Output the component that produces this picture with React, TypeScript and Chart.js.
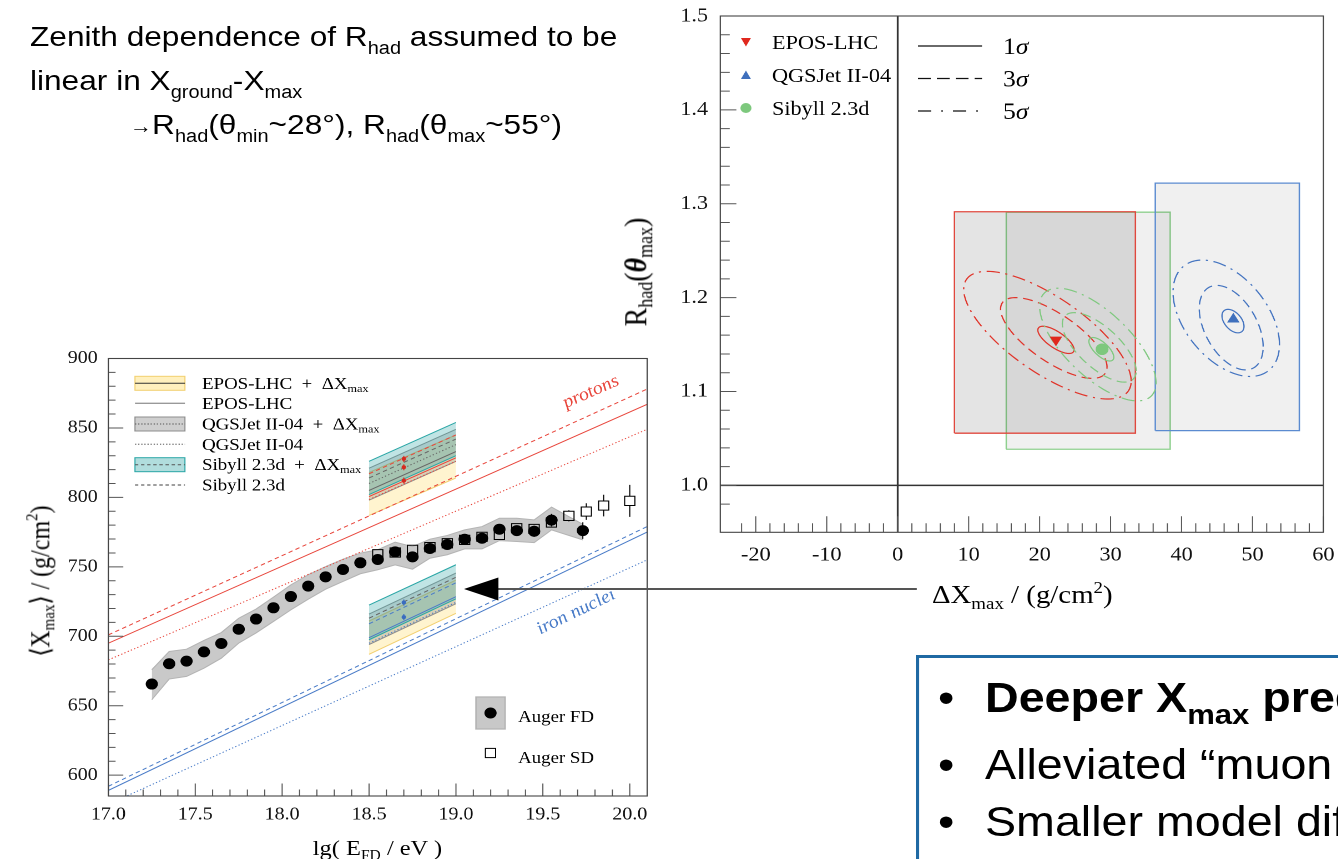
import React, { useEffect, useRef } from 'react';
import { Chart, registerables } from 'chart.js';

Chart.register(...registerables);

const STRETCH = 1.11;
const SERIF = '"Liberation Serif", "Times New Roman", Times, serif';
const SANS = '"Liberation Sans", Arial, Helvetica, sans-serif';

/* ================= left panel : <Xmax> vs lg(E) ================= */
const fdLgE = [17.25, 17.35, 17.45, 17.55, 17.65, 17.75, 17.85, 17.95, 18.05, 18.15, 18.25, 18.35, 18.45, 18.55, 18.65, 18.75, 18.85, 18.95, 19.05, 19.15, 19.25, 19.35, 19.45, 19.55, 19.73];
const fdXmax = [665.6, 680.2, 682.1, 688.8, 694.8, 705.1, 712.4, 720.5, 728.6, 736.1, 742.8, 748.1, 752.9, 755.3, 760.8, 757.2, 763.2, 766.1, 769.9, 770.6, 777.1, 776.1, 775.6, 783.6, 776.1];
const fdSysUp = [10.3, 8.9, 8.6, 8.2, 7.9, 7.9, 7.2, 7.7, 8.4, 8.2, 7.4, 7.4, 7.0, 7.0, 7.0, 7.4, 6.7, 6.5, 6.7, 8.4, 7.9, 8.9, 8.2, 9.4, 4.5];
const fdSysLow = [11.3, 11.0, 11.0, 11.8, 10.6, 10.0, 10.0, 9.8, 9.6, 9.4, 8.9, 8.6, 7.9, 7.4, 9.4, 8.9, 7.0, 7.4, 7.0, 7.7, 8.2, 7.9, 8.2, 7.0, 6.7];
const fdStat = [2.5, 2, 2, 2, 2, 2, 2, 2, 2, 2, 2, 2, 2, 2, 2, 2.5, 2.5, 2.5, 3, 3, 3.5, 3.5, 4, 4.5, 6];
const sdLgE = [18.55, 18.65, 18.75, 18.85, 18.95, 19.05, 19.15, 19.25, 19.35, 19.45, 19.55, 19.65, 19.75, 19.85, 20.0];
const sdXmax = [759.1, 760.3, 762.2, 764.2, 767.0, 769.4, 771.6, 773.0, 777.8, 777.3, 781.9, 786.7, 789.8, 794.1, 797.5];
const sdStat = [1.5, 1.5, 1.5, 1.5, 1.5, 1.5, 1.5, 2, 2, 2.5, 3, 4, 6, 7.8, 11.5];

const refLgE = [17.0, 20.1];
const protonEPOS = [695, 867];
const protonQGSJet = [683, 849];
const protonSibyll = [701, 878];
const ironEPOS = [589, 775];
const ironQGSJet = [579, 755];
const ironSibyll = [592, 779];

const shiftLgE = [18.5, 19.0];
const pEposLo = [787, 814];
const pEposHi = [818, 845];
const pQgsLo = [798, 826];
const pQgsHi = [821, 849];
const pSibLo = [802, 830];
const pSibHi = [826, 854];
const pEposMid = [805, 833];
const pQgsMid = [810, 838];
const pSibMid = [814, 842];
const pRedSolid = [800.6, 828.5];
const pRedDashed = [817, 845];
const pRedDotted = [798.5, 826];
const feEposLo = [687, 716.5];
const feEposHi = [711, 740.5];
const feQgsLo = [694, 723.5];
const feQgsHi = [716, 745.5];
const feSibLo = [697.5, 727];
const feSibHi = [722.5, 751.5];
const feSibMid = [713, 742.5];
const feBlueSolid = [699, 728.5];
const feBlueDashed = [709, 738.5];
const feBlueDotted = [695, 724.5];
const pMarkLgE = [18.7, 18.7, 18.7];
const pMarkXmax = [827.7, 821.7, 812.1];
const feMarkLgE = [18.7, 18.7];
const feMarkXmax = [724.3, 713.8];

const leftLegendNames = ['EPOS-LHC', 'EPOS-LHC', 'QGSJet II-04', 'QGSJet II-04', 'Sibyll 2.3d', 'Sibyll 2.3d'];
const leftLegendShifted = [true, false, true, false, true, false];

/* ================= right panel : R_had vs dXmax ================= */
const modelNames = ['EPOS-LHC', 'QGSJet II-04', 'Sibyll 2.3d'];
const fitDX = [22.3, 47.3, 28.8];
const fitR = [1.155, 1.177, 1.145];
const sysDXLo = [8.0, 36.3, 15.3];
const sysDXHi = [33.5, 56.6, 38.4];
const sysRLo = [1.0556, 1.0583, 1.0385];
const sysRHi = [1.2915, 1.322, 1.291];
const sigmaNames = ['1σ', '3σ', '5σ'];
// contour parameters per model, per sigma level (centre, half extents, correlation)
const contCX = [[22.3, 22.0, 21.1], [47.25, 47.0, 46.3], [28.7, 28.4, 28.2]];
const contCY = [[1.155, 1.157, 1.160], [1.175, 1.168, 1.178], [1.145, 1.147, 1.150]];
const contSX = [[2.55, 7.5, 11.8], [1.55, 4.5, 7.5], [1.75, 5.2, 8.2]];
const contSY = [[0.0145, 0.043, 0.068], [0.0125, 0.045, 0.062], [0.0125, 0.037, 0.060]];
const contRho = [-0.72, -0.45, -0.68];

const modelColor = ['#e0342a', '#4474c0', '#80c880'];
const markerColor = ['#e0281e', '#3f70bd', '#7dc87d'];
const rectEdge = ['#e0483e', '#5b8bd0', '#8fd08f'];
const rectFill = ['rgba(0,0,0,0.105)', 'rgba(0,0,0,0.06)', 'rgba(0,0,0,0.06)'];
const sigmaDash = [[], [9, 5], [12, 5, 2, 5]];

/* ================= helpers ================= */
function kindStep(v: number, minor: number, major: number): number {
  const q = v / minor;
  const r = Math.round(q);
  if (Math.abs(q - r) > 1e-6) return 0;
  const m = Math.round(major / minor);
  return r % m === 0 ? 2 : 1;
}

function pts(xs: number[], ys: number[]) {
  return xs.map((x, i) => ({ x, y: ys[i] }));
}

function lineDs(xs: number[], ys: number[], color: string, width: number, dash: number[], order: number, extra: any = {}) {
  return { data: pts(xs, ys), borderColor: color, borderWidth: width, borderDash: dash, pointRadius: 0, fill: false, order, ...extra };
}

function bandDs(xs: number[], lo: number[], hi: number[], fillColor: string, edge: string, order: number) {
  return [
    lineDs(xs, lo, edge, 1, [], order),
    lineDs(xs, hi, edge, 1, [], order, { fill: '-1', backgroundColor: fillColor }),
  ];
}

type Seg = { t: string; s?: number; dy?: number; it?: boolean; b?: boolean };
function drawRich(ctx: any, segs: Seg[], x: number, y: number, base: number, color = '#000') {
  ctx.save();
  ctx.fillStyle = color;
  ctx.textBaseline = 'alphabetic';
  ctx.textAlign = 'left';
  let cx = x;
  for (const sg of segs) {
    const size = sg.s ?? base;
    ctx.font = `${sg.it ? 'italic ' : ''}${sg.b ? 'bold ' : ''}${size}px ${SERIF}`;
    ctx.fillText(sg.t, cx, y + (sg.dy ?? 0));
    cx += ctx.measureText(sg.t).width;
  }
  ctx.restore();
  return cx;
}

function drawFrameAndTicks(chart: any, o: any) {
  const { ctx, chartArea: a } = chart;
  const xs = chart.scales.x;
  const ys = chart.scales.y;
  ctx.save();
  ctx.lineWidth = 1;
  ctx.strokeStyle = o.tickColor;
  ctx.beginPath();
  for (const t of xs.ticks) {
    const k = kindStep(t.value, o.xMinor, o.xMajor);
    if (!k) continue;
    const px = xs.getPixelForValue(t.value);
    ctx.moveTo(px, a.bottom);
    ctx.lineTo(px, a.bottom - (k === 2 ? o.xMajorLen : o.xMinorLen));
  }
  for (const t of ys.ticks) {
    const k = kindStep(t.value, o.yMinor, o.yMajor);
    if (!k) continue;
    const py = ys.getPixelForValue(t.value);
    ctx.moveTo(a.left, py);
    ctx.lineTo(a.left + (k === 2 ? o.yMajorLen : o.yMinorLen), py);
  }
  ctx.stroke();
  ctx.strokeStyle = o.frameColor;
  ctx.lineWidth = 1.1;
  ctx.strokeRect(a.left, a.top, a.right - a.left, a.bottom - a.top);
  ctx.restore();
}

const fitX = (h: number) => (s: any) => {
  s.height = h;
  s.paddingLeft = 0;
  s.paddingRight = 0;
  s.paddingTop = 0;
  s.paddingBottom = 0;
};
const fitY = (w: number) => (s: any) => {
  s.width = w;
  s.paddingLeft = 0;
  s.paddingRight = 0;
  s.paddingTop = 0;
  s.paddingBottom = 0;
};

/* ================= left chart ================= */
const RED = '#e8463c';
const BLUE = '#4a7cc8';
const YEL_FILL = 'rgba(255,222,110,0.33)';
const YEL_EDGE = '#f2d070';
const GRY_FILL = 'rgba(110,110,110,0.26)';
const GRY_EDGE = '#8c8c8c';
const CYN_FILL = 'rgba(60,170,170,0.32)';
const CYN_EDGE = '#2aa6a6';

function buildLeftDatasets() {
  const d: any[] = [];
  d.push({ data: pts(fdLgE, fdXmax), showLine: false, pointRadius: 5.5, pointBackgroundColor: '#000', pointBorderColor: '#000', pointBorderWidth: 0, order: 0 });
  d.push({ data: pts(pMarkLgE, pMarkXmax), showLine: false, pointRadius: 2, pointBackgroundColor: '#d62a20', pointBorderWidth: 0, order: 0 });
  d.push({ data: pts(feMarkLgE, feMarkXmax), showLine: false, pointRadius: 2, pointBackgroundColor: '#3a6cc0', pointBorderWidth: 0, order: 0 });
  d.push({ data: pts(sdLgE, sdXmax), showLine: false, pointStyle: 'rect', pointRadius: 6.5, pointBackgroundColor: 'rgba(0,0,0,0)', pointBorderColor: '#000', pointBorderWidth: 1, order: 1 });
  // reference proton / iron lines
  d.push(lineDs(refLgE, protonEPOS, RED, 1, [], 2));
  d.push(lineDs(refLgE, protonQGSJet, RED, 1, [1.2, 2], 2));
  d.push(lineDs(refLgE, protonSibyll, RED, 1, [4, 3], 2));
  d.push(lineDs(refLgE, ironEPOS, BLUE, 1, [], 2));
  d.push(lineDs(refLgE, ironQGSJet, BLUE, 1, [1.2, 2], 2));
  d.push(lineDs(refLgE, ironSibyll, BLUE, 1, [4, 3], 2));
  // lines inside shifted blocks
  d.push(lineDs(shiftLgE, pEposMid, '#666', 1, [], 3));
  d.push(lineDs(shiftLgE, pQgsMid, '#666', 1, [1.2, 2], 3));
  d.push(lineDs(shiftLgE, pSibMid, '#666', 1, [4, 3], 3));
  d.push(lineDs(shiftLgE, pRedSolid, RED, 1, [], 3));
  d.push(lineDs(shiftLgE, pRedDashed, RED, 1, [4, 3], 3));
  d.push(lineDs(shiftLgE, pRedDotted, RED, 1, [1.2, 2], 3));
  d.push(lineDs(shiftLgE, feSibMid, '#666', 1, [4, 3], 3));
  d.push(lineDs(shiftLgE, feBlueSolid, BLUE, 1, [], 3));
  d.push(lineDs(shiftLgE, feBlueDashed, BLUE, 1, [4, 3], 3));
  d.push(lineDs(shiftLgE, feBlueDotted, BLUE, 1, [1.2, 2], 3));
  // shifted bands (cyan on top, yellow at bottom)
  d.push(...bandDs(shiftLgE, pSibLo, pSibHi, CYN_FILL, CYN_EDGE, 4));
  d.push(...bandDs(shiftLgE, pQgsLo, pQgsHi, GRY_FILL, GRY_EDGE, 4));
  d.push(...bandDs(shiftLgE, pEposLo, pEposHi, YEL_FILL, YEL_EDGE, 4));
  d.push(...bandDs(shiftLgE, feSibLo, feSibHi, CYN_FILL, CYN_EDGE, 4));
  d.push(...bandDs(shiftLgE, feQgsLo, feQgsHi, GRY_FILL, GRY_EDGE, 4));
  d.push(...bandDs(shiftLgE, feEposLo, feEposHi, YEL_FILL, YEL_EDGE, 4));
  // FD systematic band
  const lo = fdXmax.map((v, i) => v - fdSysLow[i]);
  const hi = fdXmax.map((v, i) => v + fdSysUp[i]);
  d.push(lineDs(fdLgE, lo, '#b4b4b4', 1, [], 5));
  d.push(lineDs(fdLgE, hi, '#b4b4b4', 1, [], 5, { fill: '-1', backgroundColor: '#c9c9c9' }));
  return d;
}

const leftPlugin = {
  id: 'leftDecor',
  afterDatasetsDraw(chart: any) {
    const { ctx, chartArea: a } = chart;
    const xs = chart.scales.x;
    const ys = chart.scales.y;
    ctx.save();
    ctx.beginPath();
    ctx.rect(a.left, a.top, a.right - a.left, a.bottom - a.top);
    ctx.clip();
    ctx.lineWidth = 1;
    const bar = (x: number, y: number, e: number, gap: number, color: string) => {
      const px = xs.getPixelForValue(x);
      const py = ys.getPixelForValue(y);
      const t = ys.getPixelForValue(y + e);
      const b = ys.getPixelForValue(y - e);
      ctx.strokeStyle = color;
      ctx.beginPath();
      if (py - gap > t) { ctx.moveTo(px, t); ctx.lineTo(px, py - gap); }
      if (py + gap < b) { ctx.moveTo(px, py + gap); ctx.lineTo(px, b); }
      ctx.stroke();
    };
    fdLgE.forEach((x, i) => bar(x, fdXmax[i], fdStat[i], 5, '#000'));
    sdLgE.forEach((x, i) => bar(x, sdXmax[i], sdStat[i], 4.6, '#000'));
    pMarkLgE.forEach((x, i) => bar(x, pMarkXmax[i], 2.2, 0, '#d62a20'));
    feMarkLgE.forEach((x, i) => bar(x, feMarkXmax[i], 2.2, 0, '#3a6cc0'));
    ctx.restore();

    drawFrameAndTicks(chart, {
      tickColor: '#555', frameColor: '#444',
      xMinor: 0.1, xMajor: 0.5, xMajorLen: 12.5, xMinorLen: 6.5,
      yMinor: 10, yMajor: 50, yMajorLen: 13.5, yMinorLen: 6.5,
    });

    // model legend (upper left)
    const rowsY = [43.3, 63.3, 84, 104.3, 124.7, 145];
    const boxFill = ['rgba(255,222,110,0.45)', '', 'rgba(110,110,110,0.33)', '', 'rgba(60,170,170,0.4)', ''];
    const edges = [YEL_EDGE, '', GRY_EDGE, '', CYN_EDGE, ''];
    const lineCol = ['#333', '#999', '#555', '#888', '#555', '#666'];
    const dashes = [[], [], [1.2, 1.6], [1.2, 1.6], [3, 2.5], [3, 2.5]];
    ctx.save();
    rowsY.forEach((y, i) => {
      const x0 = 101.6;
      const w = 45;
      if (leftLegendShifted[i]) {
        ctx.fillStyle = boxFill[i];
        ctx.fillRect(x0, y - 7, w, 14);
        ctx.strokeStyle = edges[i];
        ctx.lineWidth = 1;
        ctx.strokeRect(x0, y - 7, w, 14);
      }
      ctx.strokeStyle = lineCol[i];
      ctx.lineWidth = leftLegendShifted[i] ? 1 : 1.3;
      ctx.setLineDash(dashes[i]);
      ctx.beginPath();
      ctx.moveTo(x0, y);
      ctx.lineTo(x0 + w, y);
      ctx.stroke();
      ctx.setLineDash([]);
      const segs: Seg[] = leftLegendShifted[i]
        ? [{ t: leftLegendNames[i] + '  +  ΔX' }, { t: 'max', s: 11, dy: 3 }]
        : [{ t: leftLegendNames[i] }];
      drawRich(ctx, segs, 162, y + 5.5, 17);
    });

    // Auger legend (lower right)
    ctx.fillStyle = '#c8c8c8';
    ctx.fillRect(408.8, 357, 26.2, 32);
    ctx.strokeStyle = '#b4b4b4';
    ctx.strokeRect(408.8, 357, 26.2, 32);
    ctx.fillStyle = '#000';
    ctx.beginPath();
    ctx.arc(421.9, 373, 5.5, 0, Math.PI * 2);
    ctx.fill();
    ctx.strokeStyle = '#000';
    ctx.lineWidth = 1;
    ctx.strokeRect(417.3, 408.4, 9.2, 9.2);
    drawRich(ctx, [{ t: 'Auger FD' }], 446.7, 382, 17);
    drawRich(ctx, [{ t: 'Auger SD' }], 446.7, 423, 17);
    ctx.restore();

    // curve labels
    const label = (text: string, x: number, y: number, deg: number, color: string) => {
      ctx.save();
      ctx.font = `italic 18px ${SERIF}`;
      ctx.textAlign = 'center';
      ctx.textBaseline = 'middle';
      ctx.fillStyle = color;
      ctx.translate(x, y);
      ctx.rotate((deg * Math.PI) / 180);
      ctx.fillText(text, 0, 0);
      ctx.restore();
    };
    label('protons', 512.4, 52, -26, RED);
    label('iron nuclei', 499, 272, -28, BLUE);
  },
};

function leftConfig(): any {
  return {
    type: 'line',
    data: { datasets: buildLeftDatasets() },
    options: {
      responsive: false,
      animation: false,
      devicePixelRatio: 2,
      events: [],
      layout: { padding: { left: 0, right: 12, top: 18.5, bottom: 0 } },
      plugins: { legend: { display: false }, tooltip: { enabled: false } },
      scales: {
        x: {
          type: 'linear', min: 17.0, max: 20.1,
          afterFit: fitX(63),
          grid: { display: false, drawTicks: false },
          border: { display: false },
          ticks: {
            stepSize: 0.1, autoSkip: false, maxRotation: 0, minRotation: 0, padding: 8, color: '#111',
            font: { family: SERIF, size: 18 },
            callback: (v: number) => (kindStep(v, 0.1, 0.5) === 2 ? v.toFixed(1) : ''),
          },
        },
        y: {
          type: 'linear', min: 585, max: 900,
          afterFit: fitY(77.6),
          grid: { display: false, drawTicks: false },
          border: { display: false },
          ticks: {
            stepSize: 10, autoSkip: false, padding: 9.6, color: '#111',
            font: { family: SERIF, size: 18 },
            callback: (v: number) => (kindStep(v, 10, 50) === 2 ? String(Math.round(v)) : ''),
          },
        },
      },
    },
    plugins: [leftPlugin],
  };
}

/* ================= right chart ================= */
function buildRightDatasets() {
  const d: any[] = [];
  const styles = ['triangle', 'triangle', 'circle'];
  const rots = [180, 0, 0];
  const radii = [6.5, 6.5, 5.8];
  for (let m = 0; m < 3; m++) {
    d.push({
      label: modelNames[m], data: [{ x: fitDX[m], y: fitR[m] }], showLine: false,
      pointStyle: styles[m], pointRotation: rots[m], pointRadius: radii[m],
      pointBackgroundColor: markerColor[m], pointBorderColor: markerColor[m], pointBorderWidth: 0, order: 0,
    });
  }
  for (let m = 0; m < 3; m++) {
    const x0 = sysDXLo[m], x1 = sysDXHi[m], y0 = sysRLo[m], y1 = sysRHi[m];
    d.push({
      data: [{ x: x0, y: y0 }, { x: x1, y: y0 }, { x: x1, y: y1 }, { x: x0, y: y1 }, { x: x0, y: y0 }],
      borderColor: rectEdge[m], borderWidth: 1.3, pointRadius: 0, fill: 'shape', backgroundColor: rectFill[m], order: 1,
    });
  }
  return d;
}

const rightPlugin = {
  id: 'rightDecor',
  beforeDatasetsDraw(chart: any) {
    const { ctx, chartArea: a } = chart;
    const xs = chart.scales.x;
    const ys = chart.scales.y;
    ctx.save();
    ctx.strokeStyle = '#333';
    ctx.lineWidth = 1.6;
    ctx.beginPath();
    const px = xs.getPixelForValue(0);
    const py = ys.getPixelForValue(1.0);
    ctx.moveTo(px, a.top);
    ctx.lineTo(px, a.bottom);
    ctx.moveTo(a.left, py);
    ctx.lineTo(a.right, py);
    ctx.stroke();
    ctx.restore();
  },
  afterDatasetDraw(chart: any, args: any) {
    if (args.index !== 3) return;
    const { ctx } = chart;
    const xs = chart.scales.x;
    const ys = chart.scales.y;
    ctx.save();
    ctx.lineWidth = 1.2;
    for (let m = 0; m < 3; m++) {
      const rho = contRho[m];
      const k = Math.sqrt(1 - rho * rho);
      for (let s = 0; s < 3; s++) {
        ctx.strokeStyle = modelColor[m];
        ctx.setLineDash(sigmaDash[s]);
        ctx.beginPath();
        const n = 160;
        for (let i = 0; i <= n; i++) {
          const t = (i / n) * Math.PI * 2;
          const x = contCX[m][s] + contSX[m][s] * Math.cos(t);
          const y = contCY[m][s] + contSY[m][s] * (rho * Math.cos(t) + k * Math.sin(t));
          const px = xs.getPixelForValue(x);
          const py = ys.getPixelForValue(y);
          if (i === 0) ctx.moveTo(px, py);
          else ctx.lineTo(px, py);
        }
        ctx.stroke();
      }
    }
    ctx.restore();
  },
  afterDatasetsDraw(chart: any) {
    const { ctx } = chart;
    drawFrameAndTicks(chart, {
      tickColor: '#555', frameColor: '#444',
      xMinor: 2, xMajor: 10, xMajorLen: 16, xMinorLen: 9,
      yMinor: 0.02, yMajor: 0.1, yMajorLen: 14.5, yMinorLen: 8.5,
    });
    // model marker legend
    const rows = [42, 75, 108];
    ctx.save();
    rows.forEach((y, m) => {
      const x = 132;
      ctx.fillStyle = markerColor[m];
      ctx.beginPath();
      if (m === 0) {
        ctx.moveTo(x - 4.5, y - 4);
        ctx.lineTo(x + 4.5, y - 4);
        ctx.lineTo(x, y + 4.5);
      } else if (m === 1) {
        ctx.moveTo(x - 4.5, y + 4);
        ctx.lineTo(x + 4.5, y + 4);
        ctx.lineTo(x, y - 4.5);
      } else {
        ctx.arc(x, y, 5, 0, Math.PI * 2);
      }
      ctx.closePath();
      ctx.fill();
      drawRich(ctx, [{ t: modelNames[m] }], 155.5, y + 7, 20);
    });
    // sigma legend
    const srows = [46, 78.5, 111];
    srows.forEach((y, s) => {
      ctx.strokeStyle = '#111';
      ctx.lineWidth = 1.2;
      ctx.setLineDash(s === 0 ? [] : s === 1 ? [11.5, 5.5] : [12, 9, 1.5, 9]);
      ctx.beginPath();
      ctx.moveTo(287, y);
      ctx.lineTo(344.7, y);
      ctx.stroke();
      ctx.setLineDash([]);
      drawRich(ctx, [{ t: sigmaNames[s].slice(0, 1) }, { t: 'σ', it: true }], 363.6, y + 8, 23);
    });
    ctx.restore();
  },
};

function rightConfig(): any {
  return {
    type: 'line',
    data: { datasets: buildRightDatasets() },
    options: {
      responsive: false,
      animation: false,
      devicePixelRatio: 2,
      events: [],
      layout: { padding: { left: 0, right: 12.7, top: 16, bottom: 0 } },
      plugins: { legend: { display: false }, tooltip: { enabled: false } },
      scales: {
        x: {
          type: 'linear', min: -25, max: 60,
          afterFit: fitX(87.7),
          grid: { display: false, drawTicks: false },
          border: { display: false },
          ticks: {
            stepSize: 2, autoSkip: false, maxRotation: 0, minRotation: 0, padding: 10.7, color: '#111',
            font: { family: SERIF, size: 20 },
            callback: (v: number) => (kindStep(v, 2, 10) === 2 ? String(Math.round(v)) : ''),
          },
        },
        y: {
          type: 'linear', min: 0.95, max: 1.5,
          afterFit: fitY(108.9),
          grid: { display: false, drawTicks: false },
          border: { display: false },
          ticks: {
            stepSize: 0.02, autoSkip: false, padding: 11, color: '#111',
            font: { family: SERIF, size: 20 },
            callback: (v: number) => (kindStep(v, 0.02, 0.1) === 2 ? v.toFixed(1) : ''),
          },
        },
      },
    },
    plugins: [rightPlugin],
  };
}

/* ================= page ================= */
const Sub = ({ children, size, dy }: any) => (
  <span style={{ fontSize: size, position: 'relative', top: dy }}>{children}</span>
);

export default function App() {
  const leftRef = useRef<HTMLCanvasElement>(null);
  const rightRef = useRef<HTMLCanvasElement>(null);

  useEffect(() => {
    const c1 = new Chart(leftRef.current as HTMLCanvasElement, leftConfig());
    const c2 = new Chart(rightRef.current as HTMLCanvasElement, rightConfig());
    return () => {
      c1.destroy();
      c2.destroy();
    };
  }, []);

  const topLine: any = { position: 'absolute', font: `28.5px ${SANS}`, lineHeight: '29px', whiteSpace: 'nowrap', color: '#000' };
  const bulletLine: any = { position: 'absolute', left: 887.4, font: `42px ${SANS}`, lineHeight: '42px', whiteSpace: 'nowrap', color: '#000' };
  const bullet: any = { position: 'absolute', left: 845, font: `42px ${SANS}`, lineHeight: '42px', color: '#000' };

  return (
    <div style={{ position: 'fixed', left: 0, top: 0, width: 1338, height: 859, overflow: 'hidden', background: '#fff' }}>
      <div style={{ position: 'absolute', left: 0, top: 0, width: 1338 / STRETCH, height: 859, transform: `scaleX(${STRETCH})`, transformOrigin: '0 0' }}>
        {/* top-left text */}
        <div style={{ ...topLine, left: 27, top: 21.5 }}>
          Zenith dependence of R<Sub size="18px" dy="8px">had</Sub> assumed to be
        </div>
        <div style={{ ...topLine, left: 27, top: 65.5 }}>
          linear in X<Sub size="18px" dy="8px">ground</Sub>-X<Sub size="18px" dy="8px">max</Sub>
        </div>
        <div style={{ ...topLine, left: 117, top: 109.5 }}>
          <span style={{ fontSize: '20px', position: 'relative', top: '-1px' }}>→</span>R<Sub size="18px" dy="8px">had</Sub>(θ<Sub size="18px" dy="8px">min</Sub>~28°), R<Sub size="18px" dy="8px">had</Sub>(θ<Sub size="18px" dy="8px">max</Sub>~55°)
        </div>

        <canvas ref={rightRef} width={665} height={620} style={{ position: 'absolute', left: 540, top: 0, width: 665, height: 620 }} />
        <canvas ref={leftRef} width={575} height={519} style={{ position: 'absolute', left: 20, top: 340, width: 575, height: 519 }} />

        {/* axis titles */}
        <div style={{ position: 'absolute', left: 36, top: 581, transform: 'translate(-50%,-50%) rotate(-90deg)', font: `24px ${SERIF}`, whiteSpace: 'nowrap', color: '#000' }}>
          ⟨X<Sub size="15px" dy="5px">max</Sub>⟩ / (g/cm<Sub size="15px" dy="-10px">2</Sub>)
        </div>
        <div style={{ position: 'absolute', left: 340, top: 848, transform: 'translate(-50%,-50%)', font: `22px ${SERIF}`, whiteSpace: 'nowrap', color: '#000' }}>
          lg( E<Sub size="14px" dy="5px">FD</Sub> / eV )
        </div>
        <div style={{ position: 'absolute', left: 573, top: 272, transform: 'translate(-50%,-50%) rotate(-90deg)', font: `28px ${SERIF}`, whiteSpace: 'nowrap', color: '#000' }}>
          R<Sub size="18px" dy="6px">had</Sub>(<b><i>θ</i></b><Sub size="18px" dy="6px">max</Sub>)
        </div>
        <div style={{ position: 'absolute', left: 921, top: 595, transform: 'translate(-50%,-50%)', font: `26px ${SERIF}`, whiteSpace: 'nowrap', color: '#000' }}>
          ΔX<Sub size="17px" dy="6px">max</Sub> / (g/cm<Sub size="17px" dy="-10px">2</Sub>)
        </div>

        {/* arrow */}
        <svg width={1206} height={859} style={{ position: 'absolute', left: 0, top: 0, pointerEvents: 'none' }}>
          <line x1={447} y1={589} x2={826} y2={589} stroke="#555" strokeWidth={2} />
          <polygon points="418,589 449,577.5 449,600.5" fill="#000" />
        </svg>

        {/* conclusion box */}
        <div style={{ position: 'absolute', left: 825, top: 655, width: 500, height: 300, border: '3px solid #1f69a3', boxSizing: 'border-box' }} />
        <div style={{ ...bullet, top: 677 }}>•</div>
        <div style={{ ...bulletLine, top: 677, fontWeight: 'bold' }}>
          Deeper X<Sub size="28px" dy="12px">max</Sub> predictions
        </div>
        <div style={{ ...bullet, top: 744.4 }}>•</div>
        <div style={{ ...bulletLine, top: 744.4 }}>Alleviated “muon puzzle”</div>
        <div style={{ ...bullet, top: 801.4 }}>•</div>
        <div style={{ ...bulletLine, top: 801.4 }}>Smaller model differences</div>
      </div>
    </div>
  );
}
